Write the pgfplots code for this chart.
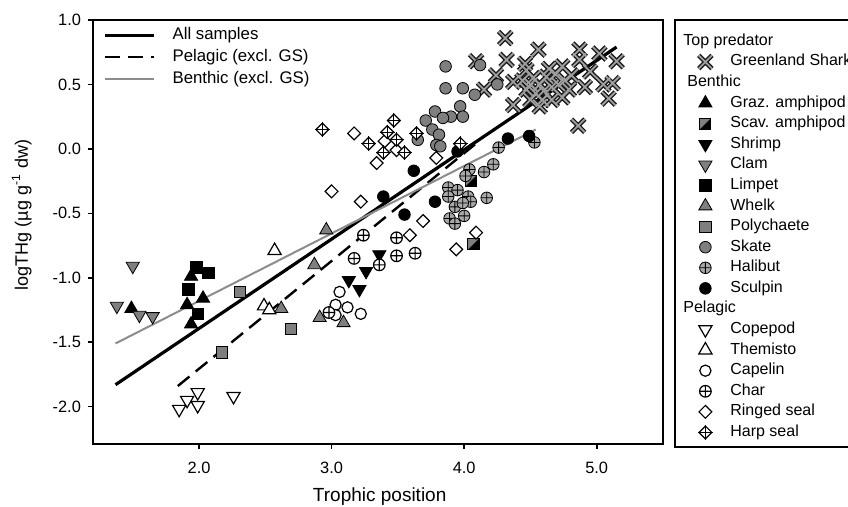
\documentclass[border=0pt]{standalone}
\usepackage{fontspec}
\setmainfont{Liberation Sans}
\usepackage{pgfplots}
\usepackage{pgfplotstable}
\pgfplotsset{compat=1.18}
\definecolor{cGray}{HTML}{7F7F7F}
\definecolor{cLight}{HTML}{A8A8A8}
\definecolor{cLine}{HTML}{8C8C8C}

% square split on the diagonal: grey upper-left, black lower-right
\pgfdeclareplotmark{scav}{%
  \pgfpathmoveto{\pgfqpoint{-\pgfplotmarksize}{-\pgfplotmarksize}}%
  \pgfpathlineto{\pgfqpoint{-\pgfplotmarksize}{\pgfplotmarksize}}%
  \pgfpathlineto{\pgfqpoint{\pgfplotmarksize}{\pgfplotmarksize}}%
  \pgfpathclose
  \pgfsetfillcolor{cGray}\pgfusepathqfill
  \pgfpathmoveto{\pgfqpoint{-\pgfplotmarksize}{-\pgfplotmarksize}}%
  \pgfpathlineto{\pgfqpoint{\pgfplotmarksize}{\pgfplotmarksize}}%
  \pgfpathlineto{\pgfqpoint{\pgfplotmarksize}{-\pgfplotmarksize}}%
  \pgfpathclose
  \pgfsetfillcolor{black}\pgfusepathqfill
  \pgfpathrectangle{\pgfqpoint{-\pgfplotmarksize}{-\pgfplotmarksize}}{\pgfqpoint{2\pgfplotmarksize}{2\pgfplotmarksize}}%
  \pgfusepathqstroke}
% plain diamond
\pgfdeclareplotmark{dia}{%
  \pgfpathmoveto{\pgfqpoint{0pt}{\pgfplotmarksize}}%
  \pgfpathlineto{\pgfqpoint{\pgfplotmarksize}{0pt}}%
  \pgfpathlineto{\pgfqpoint{0pt}{-\pgfplotmarksize}}%
  \pgfpathlineto{\pgfqpoint{-\pgfplotmarksize}{0pt}}%
  \pgfpathclose\pgfusepathqfillstroke}
% diamond with a cross
\pgfdeclareplotmark{dplus}{%
  \pgfpathmoveto{\pgfqpoint{0pt}{\pgfplotmarksize}}%
  \pgfpathlineto{\pgfqpoint{\pgfplotmarksize}{0pt}}%
  \pgfpathlineto{\pgfqpoint{0pt}{-\pgfplotmarksize}}%
  \pgfpathlineto{\pgfqpoint{-\pgfplotmarksize}{0pt}}%
  \pgfpathclose\pgfusepathqfillstroke
  \pgfpathmoveto{\pgfqpoint{0pt}{1.15\pgfplotmarksize}}%
  \pgfpathlineto{\pgfqpoint{0pt}{-1.15\pgfplotmarksize}}%
  \pgfpathmoveto{\pgfqpoint{-1.15\pgfplotmarksize}{0pt}}%
  \pgfpathlineto{\pgfqpoint{1.15\pgfplotmarksize}{0pt}}%
  \pgfusepathqstroke}

\pgfplotsset{
  sp/.style={only marks, mark options={draw=black, line width=0.5pt}},
  graz/.style={sp, mark=triangle*, mark size=3.8pt, mark options={fill=black}},
  scav/.style={sp, mark=scav, mark size=2.8pt},
  shrimp/.style={sp, mark=triangle*, mark size=3.8pt, mark options={fill=black, rotate=180}},
  clam/.style={sp, mark=triangle*, mark size=3.8pt, mark options={fill=cGray, rotate=180}},
  limpet/.style={sp, mark=square*, mark size=2.8pt, mark options={fill=black}},
  whelk/.style={sp, mark=triangle*, mark size=3.8pt, mark options={fill=cGray}},
  poly/.style={sp, mark=square*, mark size=2.8pt, mark options={fill=cGray}},
  skate/.style={sp, mark=*, mark size=2.9pt, mark options={fill=cGray}},
  halibut/.style={sp, mark=oplus*, mark size=2.9pt, mark options={fill=cLight}},
  sculpin/.style={sp, mark=*, mark size=2.9pt, mark options={fill=black}},
  copepod/.style={sp, mark=triangle*, mark size=3.8pt, mark options={fill=white, rotate=180, line width=0.6pt}},
  themisto/.style={sp, mark=triangle*, mark size=3.8pt, mark options={fill=white, line width=0.6pt}},
  capelin/.style={sp, mark=*, mark size=2.8pt, mark options={fill=white, line width=0.6pt}},
  charr/.style={sp, mark=oplus*, mark size=2.9pt, mark options={fill=white, line width=0.6pt}},
  ringed/.style={sp, mark=dia, mark size=3.2pt, mark options={fill=white, line width=0.6pt}},
  harp/.style={sp, mark=dplus, mark size=3.2pt, mark options={fill=white, line width=0.6pt}},
  sharkA/.style={only marks, mark=x, mark size=4.7pt, mark options={draw=black!90, line width=2.3pt}},
  sharkB/.style={only marks, mark=x, mark size=4.7pt, mark options={draw=black!38, line width=0.9pt}},
}

\pgfplotstableread{
x y
4.31 0.86
4.56 0.77
4.32 0.69
4.09 0.68
4.46 0.66
4.87 0.77
5.02 0.74
5.15 0.68
4.24 0.57
4.15 0.46
4.37 0.52
4.37 0.34
4.86 0.18
5.09 0.39
5.12 0.51
5.05 0.50
4.91 0.48
4.95 0.60
4.87 0.69
4.47 0.61
4.52 0.55
4.57 0.50
4.54 0.43
4.59 0.38
4.57 0.33
4.64 0.62
4.69 0.58
4.74 0.64
4.76 0.53
4.79 0.46
4.74 0.40
4.66 0.48
4.47 0.46
4.44 0.53
4.50 0.38
4.62 0.56
4.71 0.50
4.81 0.57
4.66 0.38
4.60 0.45
4.50 0.50
}\tabShark
\pgfplotstableread{
x y
1.49 -1.24
1.94 -0.99
2.03 -1.16
1.91 -1.21
1.94 -1.36
}\tabGraz
\pgfplotstableread{
x y
4.05 -0.25
4.07 -0.74
}\tabScav
\pgfplotstableread{
x y
3.36 -0.82
3.26 -0.95
3.13 -1.02
3.21 -1.09
}\tabShrimp
\pgfplotstableread{
x y
1.50 -0.91
1.38 -1.22
1.55 -1.29
1.65 -1.30
}\tabClam
\pgfplotstableread{
x y
1.98 -0.92
2.07 -0.96
1.92 -1.09
1.99 -1.28
}\tabLimpet
\pgfplotstableread{
x y
2.62 -1.24
2.87 -0.90
2.91 -1.31
3.09 -1.35
2.96 -0.63
}\tabWhelk
\pgfplotstableread{
x y
2.31 -1.11
2.69 -1.40
2.17 -1.58
}\tabPoly
\pgfplotstableread{
x y
3.86 0.64
4.12 0.65
3.86 0.47
3.99 0.47
4.08 0.42
4.25 0.50
3.78 0.29
3.97 0.33
3.99 0.25
3.90 0.25
3.84 0.24
3.71 0.22
3.76 0.15
3.81 0.11
3.79 0.03
3.82 0.02
3.65 0.07
}\tabSkate
\pgfplotstableread{
x y
4.53 0.05
4.26 0.01
4.22 -0.12
4.15 -0.18
4.04 -0.16
4.01 -0.21
3.88 -0.30
3.95 -0.32
4.03 -0.37
4.05 -0.41
4.17 -0.38
3.88 -0.37
3.93 -0.45
3.89 -0.54
4.00 -0.52
3.93 -0.58
3.99 -0.42
}\tabHalibut
\pgfplotstableread{
x y
4.33 0.08
4.49 0.10
3.95 -0.02
3.62 -0.17
3.39 -0.37
3.78 -0.41
3.55 -0.51
}\tabSculpin
\pgfplotstableread{
x y
1.99 -1.89
1.91 -1.95
1.99 -1.99
1.85 -2.02
2.26 -1.92
}\tabCopepod
\pgfplotstableread{
x y
2.57 -0.79
2.49 -1.22
2.53 -1.25
}\tabThemisto
\pgfplotstableread{
x y
3.06 -1.11
3.03 -1.21
3.12 -1.23
3.22 -1.28
3.03 -1.29
}\tabCapelin
\pgfplotstableread{
x y
2.98 -1.27
3.17 -0.85
3.36 -0.90
3.49 -0.83
3.63 -0.81
3.24 -0.67
3.49 -0.69
}\tabChar
\pgfplotstableread{
x y
3.17 0.12
3.40 0.06
3.49 -0.01
3.34 -0.11
3.79 -0.07
3.00 -0.33
3.22 -0.41
3.69 -0.56
3.59 -0.67
3.94 -0.78
4.09 -0.65
}\tabRinged
\pgfplotstableread{
x y
2.93 0.15
3.47 0.22
3.28 0.04
3.42 0.13
3.49 0.07
3.39 -0.03
3.55 -0.03
3.64 0.12
3.97 0.04
}\tabHarp

\begin{document}
\begin{tikzpicture}
\begin{axis}[
  at={(0,0)}, anchor=south west, scale only axis,
  width=285pt, height=212pt,
  xmin=1.2, xmax=5.5, ymin=-2.29, ymax=1.0,
  xtick={2,3,4,5}, ytick={-2,-1.5,-1,-0.5,0,0.5,1},
  xtick pos=left, ytick pos=left, tick align=outside,
  major tick length=2.5pt,
  tick style={black, line width=0.8pt},
  axis line style={black, line width=1.1pt},
  tick label style={font=\fontsize{8.2}{9}\selectfont},
  xticklabel style={yshift=-3pt},
  /pgf/number format/.cd, fixed, fixed zerofill, precision=1, assume math mode=true,
  /pgfplots/.cd,
  xlabel={Trophic position},
  xlabel style={font=\fontsize{9.5}{11}\selectfont, at={(axis description cs:0.503,-0.125)}, anchor=center},
  ylabel={logTHg (µg g\textsuperscript{-1} dw)},
  ylabel style={font=\fontsize{9}{11}\selectfont, at={(axis description cs:-0.125,0.54)}, anchor=center},
  legend style={at={(axis description cs:0.0175,0.988)}, anchor=north west,
    draw=none, fill=none, inner sep=0pt, font=\fontsize{8.4}{10}\selectfont,
    nodes={inner sep=1pt, text height=6pt, text depth=2pt}, row sep=0.9pt,
    /tikz/every odd column/.append style={column sep=7.5pt}},
  legend cell align=left,
  legend image code/.code={\draw[#1] (0pt,0pt) -- (24.5pt,0pt);},
]
\addplot[sharkA, forget plot] table {\tabShark};
\addplot[sharkB, forget plot] table {\tabShark};
\addplot[graz, forget plot] table {\tabGraz};
\addplot[scav, forget plot] table {\tabScav};
\addplot[shrimp, forget plot] table {\tabShrimp};
\addplot[clam, forget plot] table {\tabClam};
\addplot[limpet, forget plot] table {\tabLimpet};
\addplot[whelk, forget plot] table {\tabWhelk};
\addplot[poly, forget plot] table {\tabPoly};
\addplot[skate, forget plot] table {\tabSkate};
\addplot[halibut, forget plot] table {\tabHalibut};
\addplot[sculpin, forget plot] table {\tabSculpin};
\addplot[copepod, forget plot] table {\tabCopepod};
\addplot[themisto, forget plot] table {\tabThemisto};
\addplot[capelin, forget plot] table {\tabCapelin};
\addplot[charr, forget plot] table {\tabChar};
\addplot[ringed, forget plot] table {\tabRinged};
\addplot[harp, forget plot] table {\tabHarp};
% regression lines
\addplot[black, line width=1.6pt, no marks] coordinates {(1.37,-1.83) (5.15,0.79)};
\addlegendentry{All samples}
\addplot[black, line width=1.2pt, no marks, dash pattern=on 7.5pt off 4pt] coordinates {(1.84,-1.84) (4.10,0.05)};
\addlegendentry{Pelagic (excl. GS)}
\addplot[cLine, line width=1.0pt, no marks] coordinates {(1.37,-1.51) (4.54,0.15)};
\addlegendentry{Benthic (excl. GS)}
\end{axis}

% species legend (hidden axis of the same size)
\begin{axis}[
  at={(0,0)}, anchor=south west, scale only axis,
  width=285pt, height=212pt, hide axis,
  xmin=0, xmax=1, ymin=0, ymax=1,
  legend style={at={(axis description cs:1.0491,0.974)}, anchor=north west,
    draw=none, fill=none, inner sep=0pt, font=\fontsize{8.0}{10}\selectfont,
    nodes={inner sep=1pt, text height=6pt, text depth=2pt}, row sep=0.29pt,
    /tikz/every odd column/.append style={column sep=4.5pt}},
  legend cell align=left,
  legend image code/.code={\path[draw=none, fill=none] (0pt,-4pt) rectangle (14pt,4pt); \draw[#1] plot coordinates {(7pt,0pt)};},
]
\addlegendimage{empty legend}\addlegendentry{\hspace*{-23.5pt}Top predator}
\addlegendimage{legend image code/.code={\path[draw=none, fill=none] (0pt,-4pt) rectangle (14pt,4pt);
  \draw[only marks, mark=x, mark size=4.7pt, mark options={draw=black!90, line width=2.3pt}] plot coordinates {(7pt,0pt)};
  \draw[only marks, mark=x, mark size=4.7pt, mark options={draw=black!38, line width=0.9pt}] plot coordinates {(7pt,0pt)};}}
\addlegendentry{Greenland Shark}
\addlegendimage{empty legend}\addlegendentry{\hspace*{-21.5pt}Benthic}
\addlegendimage{graz}\addlegendentry{Graz. amphipod}
\addlegendimage{scav}\addlegendentry{Scav. amphipod}
\addlegendimage{shrimp}\addlegendentry{Shrimp}
\addlegendimage{clam}\addlegendentry{Clam}
\addlegendimage{limpet}\addlegendentry{Limpet}
\addlegendimage{whelk}\addlegendentry{Whelk}
\addlegendimage{poly}\addlegendentry{Polychaete}
\addlegendimage{skate}\addlegendentry{Skate}
\addlegendimage{halibut}\addlegendentry{Halibut}
\addlegendimage{sculpin}\addlegendentry{Sculpin}
\addlegendimage{empty legend}\addlegendentry{\hspace*{-23.5pt}Pelagic}
\addlegendimage{copepod}\addlegendentry{Copepod}
\addlegendimage{themisto}\addlegendentry{Themisto}
\addlegendimage{capelin}\addlegendentry{Capelin}
\addlegendimage{charr}\addlegendentry{Char}
\addlegendimage{ringed}\addlegendentry{Ringed seal}
\addlegendimage{harp}\addlegendentry{Harp seal}
\end{axis}
\draw[black, line width=1.1pt] (291pt,-1.5pt) rectangle (430pt,212pt);
\pgfresetboundingbox
\path[use as bounding box] (-46.5pt,-31.5pt) rectangle (377.5pt,222pt);
\end{tikzpicture}
\end{document}
